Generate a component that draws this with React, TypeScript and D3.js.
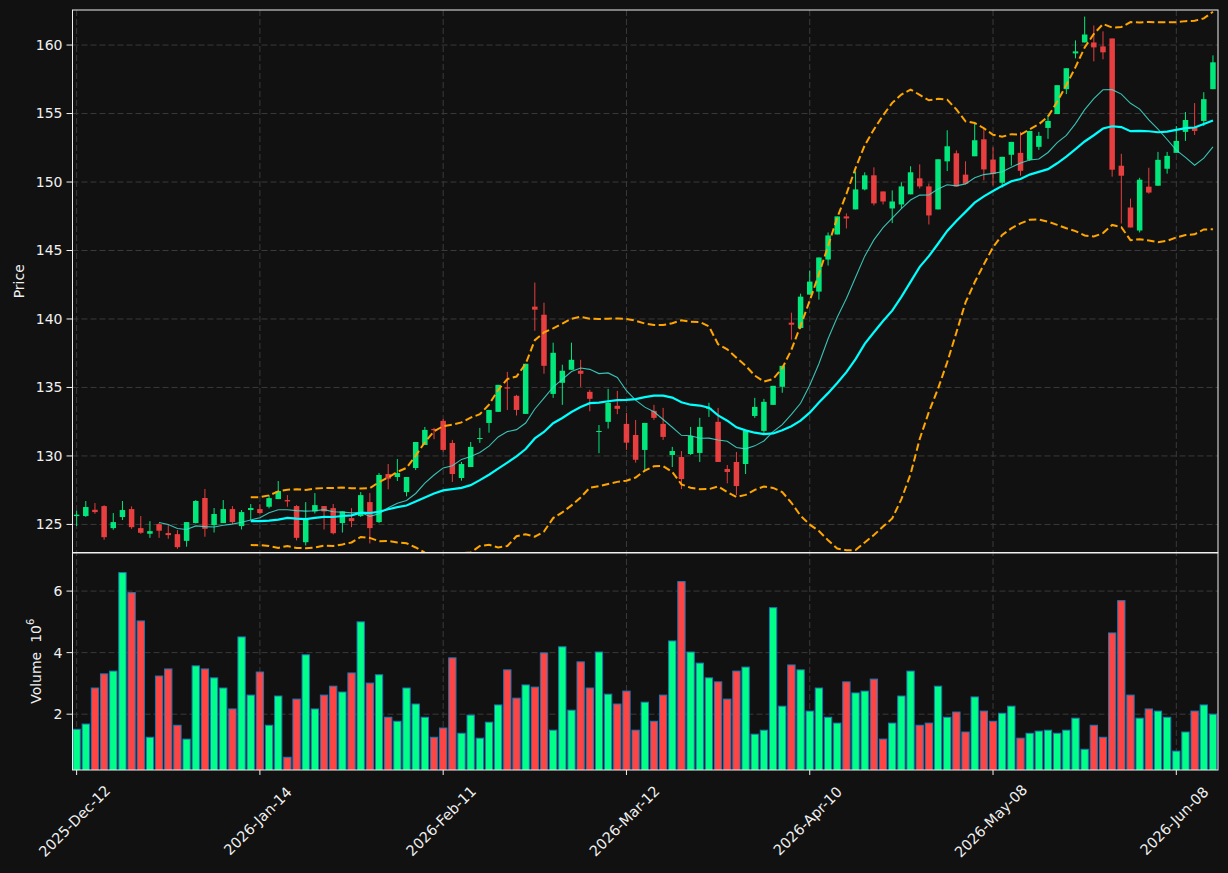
import React from 'react';
import * as d3 from 'd3';

// x tick labels (every 20th session)
const tickIndex = [0, 20, 40, 60, 80, 100, 120];
const tickLabels = ['2025-Dec-12', '2026-Jan-14', '2026-Feb-11', '2026-Mar-12', '2026-Apr-10', '2026-May-08', '2026-Jun-08'];

const opens = [
  125.61, 125.61, 126.07, 126.34, 124.73, 125.54, 126.12, 124.73, 124.32, 125.02,
  124.37, 124.29, 123.80, 125.10, 126.93, 124.95, 125.10, 126.12, 124.88, 126.05,
  126.12, 126.29, 126.85, 126.78, 126.34, 123.70, 125.95, 126.34, 126.19, 125.10,
  125.46, 125.61, 126.63, 125.17, 128.68, 128.46, 127.36, 129.12, 130.80, 131.97,
  132.56, 130.95, 128.39, 129.19, 131.24, 132.41, 133.22, 135.00, 134.39, 133.07,
  140.90, 140.31, 134.53, 135.34, 136.29, 136.22, 134.68, 131.75, 132.49, 133.66,
  132.34, 131.53, 130.44, 133.29, 132.34, 130.07, 129.92, 130.14, 130.22, 133.44,
  132.49, 129.05, 129.56, 129.41, 132.92, 131.83, 133.73, 135.05, 139.73, 139.34,
  141.78, 142.00, 144.34, 146.17, 147.49, 148.00, 149.46, 150.49, 149.31, 148.07,
  148.36, 149.10, 150.27, 149.68, 148.00, 151.51, 152.10, 150.54, 151.88, 153.12,
  151.64, 149.95, 151.99, 152.13, 151.62, 152.57, 153.95, 154.96, 156.78, 159.39,
  160.19, 160.19, 159.90, 160.48, 151.19, 148.14, 146.46, 149.66, 149.73, 150.97,
  152.13, 153.66, 154.02, 154.46, 156.78,
];
const highs = [
  126.00, 126.71, 126.56, 126.40, 125.83, 126.71, 126.32, 125.61, 125.24, 125.10,
  124.95, 124.59, 125.17, 126.78, 127.59, 126.20, 126.78, 126.34, 126.05, 126.49,
  126.49, 127.14, 128.17, 127.14, 126.41, 126.63, 127.29, 126.34, 126.49, 125.95,
  126.19, 127.36, 127.29, 128.75, 129.41, 129.78, 128.46, 131.02, 132.12, 132.05,
  132.70, 131.17, 129.56, 131.02, 132.05, 133.36, 135.19, 136.14, 134.46, 136.73,
  142.66, 141.19, 138.27, 136.66, 138.27, 137.02, 134.83, 132.26, 134.90, 134.75,
  133.15, 132.63, 132.41, 133.73, 133.51, 130.66, 130.36, 132.12, 132.78, 133.88,
  133.51, 129.34, 130.29, 131.83, 134.24, 134.17, 135.12, 136.58, 140.46, 141.85,
  143.54, 144.49, 146.32, 147.49, 147.71, 150.78, 150.71, 151.07, 149.31, 149.39,
  149.98, 151.15, 151.29, 149.90, 151.66, 153.78, 152.31, 151.51, 154.36, 154.00,
  152.54, 151.84, 152.93, 153.66, 153.73, 153.66, 154.89, 157.07, 158.31, 160.34,
  162.08, 161.43, 161.00, 160.48, 152.06, 148.79, 150.31, 151.04, 152.20, 152.20,
  154.09, 155.11, 155.76, 156.56, 159.25,
];
const lows = [
  124.88, 125.55, 125.78, 123.88, 124.61, 125.32, 124.68, 124.32, 124.02, 124.02,
  123.95, 123.22, 123.37, 125.07, 124.10, 124.41, 125.10, 125.02, 124.63, 125.32,
  125.76, 126.17, 126.85, 126.29, 123.83, 123.46, 125.80, 124.63, 124.27, 124.41,
  124.80, 125.54, 123.61, 125.10, 127.56, 128.17, 127.05, 128.97, 130.80, 131.22,
  130.32, 128.10, 128.20, 129.19, 130.95, 131.70, 133.22, 133.36, 132.95, 133.07,
  139.14, 136.00, 134.24, 133.73, 136.29, 135.04, 133.26, 130.20, 132.00, 133.05,
  130.44, 129.51, 128.97, 132.63, 131.17, 129.19, 127.58, 130.07, 129.56, 132.85,
  129.56, 128.00, 127.14, 128.68, 132.78, 131.65, 133.73, 134.61, 138.49, 139.27,
  141.78, 141.41, 143.90, 146.17, 146.61, 148.00, 149.39, 148.29, 148.36, 147.00,
  148.07, 149.10, 149.53, 146.90, 148.00, 150.80, 149.68, 149.83, 151.88, 150.12,
  149.76, 149.59, 151.19, 150.46, 151.55, 152.35, 153.15, 154.96, 156.42, 159.03,
  160.19, 158.81, 158.96, 150.39, 146.97, 146.68, 146.32, 149.15, 149.73, 150.61,
  152.13, 153.00, 153.44, 154.09, 156.78,
];
const closes = [
  125.71, 126.27, 125.90, 124.07, 125.17, 126.05, 124.80, 124.39, 124.51, 124.54,
  124.22, 123.34, 125.17, 126.71, 124.68, 125.76, 126.12, 125.17, 125.90, 126.20,
  125.83, 126.92, 127.44, 126.68, 124.02, 125.44, 126.41, 125.95, 124.36, 125.95,
  125.24, 127.14, 124.73, 128.61, 128.34, 128.75, 128.46, 131.02, 131.90, 131.88,
  130.44, 128.68, 129.41, 130.66, 131.31, 133.36, 135.19, 134.92, 133.36, 136.73,
  140.68, 136.58, 137.53, 136.22, 137.02, 136.00, 134.17, 131.82, 133.88, 133.44,
  130.97, 129.72, 132.41, 132.78, 131.39, 130.36, 128.31, 131.46, 132.12, 133.51,
  129.56, 128.83, 127.80, 131.83, 133.58, 133.95, 135.12, 136.58, 139.58, 141.63,
  142.73, 144.49, 146.10, 147.49, 147.34, 149.46, 150.49, 148.44, 148.58, 148.58,
  149.68, 150.71, 149.68, 147.56, 151.66, 152.61, 149.68, 149.88, 153.05, 150.92,
  150.58, 151.84, 152.93, 150.82, 153.73, 153.37, 154.46, 157.07, 158.31, 159.54,
  160.77, 159.83, 159.47, 150.90, 150.46, 146.68, 150.17, 149.23, 151.62, 151.91,
  153.00, 154.53, 153.73, 156.05, 158.74,
];
// volume in millions
const volumes = [
  1.51, 1.68, 2.85, 3.31, 3.40, 6.60, 5.95, 5.03, 1.25, 3.24,
  3.47, 1.64, 1.19, 3.57, 3.47, 3.18, 2.85, 2.17, 4.51, 2.62,
  3.37, 1.64, 2.59, 0.60, 2.49, 3.93, 2.17, 2.62, 2.91, 2.72,
  3.34, 5.00, 3.01, 3.28, 1.90, 1.77, 2.85, 2.33, 1.90, 1.25,
  1.55, 3.83, 1.38, 1.97, 1.22, 1.74, 2.30, 3.44, 2.52, 2.95,
  2.88, 3.99, 1.48, 4.19, 2.13, 3.70, 2.85, 4.02, 2.65, 2.33,
  2.75, 1.48, 2.39, 1.77, 2.62, 4.38, 6.31, 4.02, 3.66, 3.18,
  3.05, 2.49, 3.40, 3.53, 1.35, 1.48, 5.46, 2.26, 3.60, 3.44,
  2.10, 2.85, 1.90, 1.71, 3.05, 2.69, 2.75, 3.14, 1.19, 1.71,
  2.59, 3.40, 1.64, 1.71, 2.91, 1.90, 2.07, 1.42, 2.56, 2.10,
  1.77, 2.03, 2.26, 1.22, 1.38, 1.45, 1.48, 1.38, 1.48, 1.87,
  0.86, 1.64, 1.25, 4.64, 5.69, 2.62, 1.87, 2.17, 2.10, 1.90,
  0.80, 1.42, 2.10, 2.30, 2.00,
];

const priceTicks = [125, 130, 135, 140, 145, 150, 155, 160];
const volumeTicks = [2, 4, 6];

const W = 1228;
const H = 873;
const L = 72.5;
const R = 1218;
const T = 10;
const MID = 552.5;
const B = 770;

const FONT = 'DejaVu Sans, sans-serif';
const BG = '#111111';
const UP = '#00ff88';
const DOWN = '#ff4444';

function rolling(values: number[], n: number, fn: (w: number[]) => number) {
  return values.map((_, i) => (i < n - 1 ? null : fn(values.slice(i - n + 1, i + 1))));
}

// population standard deviation
const pstd = (w: number[]) => {
  const m = d3.mean(w) as number;
  return Math.sqrt(d3.mean(w, (v) => (v - m) * (v - m)) as number);
};

const App: React.FC = () => {
  const n = closes.length;
  const x = d3.scaleLinear().domain([-0.45, n - 0.45]).range([L, R]);
  const pitch = x(1) - x(0);
  const y = d3.scaleLinear().domain([122.95, 162.56]).range([MID, T]);
  const yv = d3.scaleLinear().domain([0.186, 7.254]).range([B, MID]);

  const ma10 = rolling(closes, 10, (w) => d3.mean(w) as number);
  const ma20 = rolling(closes, 20, (w) => d3.mean(w) as number);
  const sd20 = rolling(closes, 20, pstd);
  const upper = ma20.map((m, i) => (m == null ? null : m + 2 * (sd20[i] as number)));
  const lower = ma20.map((m, i) => (m == null ? null : m - 2 * (sd20[i] as number)));

  const line = d3
    .line<number | null>()
    .defined((d) => d != null)
    .x((_, i) => x(i))
    .y((d) => y(d as number));

  const bodyW = pitch * 0.6;
  const volW = pitch * 0.8;
  const isUp = (i: number) => closes[i] >= opens[i];

  return (
    <svg
      width={W}
      height={H}
      style={{ position: 'absolute', left: 0, top: 0, background: BG }}
      fontFamily={FONT}
    >
      <defs>
        <clipPath id="pclip">
          <rect x={L} y={T} width={R - L} height={MID - T} />
        </clipPath>
        <clipPath id="vclip">
          <rect x={L} y={MID} width={R - L} height={B - MID} />
        </clipPath>
      </defs>
      <rect x={0} y={0} width={W} height={H} fill={BG} />

      {/* grid */}
      <g stroke="#3a3a3a" strokeWidth={1} strokeDasharray="6 3">
        {priceTicks.map((t) => (
          <line key={'pg' + t} x1={L} x2={R} y1={y(t)} y2={y(t)} />
        ))}
        {volumeTicks.map((t) => (
          <line key={'vg' + t} x1={L} x2={R} y1={yv(t)} y2={yv(t)} />
        ))}
        {tickIndex.map((t) => (
          <line key={'xg' + t} x1={x(t)} x2={x(t)} y1={T} y2={B} />
        ))}
      </g>

      {/* candles */}
      <g clipPath="url(#pclip)">
        {closes.map((c, i) => {
          const col = isUp(i) ? UP : DOWN;
          const top = y(Math.max(opens[i], c));
          const bot = y(Math.min(opens[i], c));
          return (
            <g key={'c' + i} opacity={0.9}>
              <line x1={x(i)} x2={x(i)} y1={y(highs[i])} y2={y(lows[i])} stroke={col} strokeWidth={1} />
              <rect x={x(i) - bodyW / 2} y={top} width={bodyW} height={Math.max(1, bot - top)} fill={col} />
            </g>
          );
        })}
        <path d={line(ma10) || ''} fill="none" stroke="#40e0d0" strokeOpacity={0.85} strokeWidth={1.1} />
        <path d={line(ma20) || ''} fill="none" stroke="#00ffff" strokeWidth={2.2} />
        <path d={line(upper) || ''} fill="none" stroke="#ffa500" strokeWidth={2} strokeDasharray="7.5 3.5" />
        <path d={line(lower) || ''} fill="none" stroke="#ffa500" strokeWidth={2} strokeDasharray="7.5 3.5" />
      </g>

      {/* volume */}
      <g clipPath="url(#vclip)">
        {volumes.map((v, i) => (
          <rect
            key={'v' + i}
            x={x(i) - volW / 2}
            y={yv(v)}
            width={volW}
            height={B - yv(v) + 2}
            fill={isUp(i) ? UP : DOWN}
            stroke="#1f77b4"
            strokeWidth={1}
          />
        ))}
      </g>

      {/* frames */}
      <rect x={L} y={T} width={R - L} height={MID - T} fill="none" stroke="#f0f0f0" strokeWidth={1} />
      <rect x={L} y={MID + 0.5} width={R - L} height={B - MID - 0.5} fill="none" stroke="#f0f0f0" strokeWidth={1} />

      {/* y ticks */}
      <g fill="#f0f0f0" fontSize={14} textAnchor="end">
        {priceTicks.map((t) => (
          <g key={'pt' + t}>
            <line x1={L - 6} x2={L} y1={y(t)} y2={y(t)} stroke="#f0f0f0" />
            <text x={L - 10} y={y(t)} dy="0.35em">
              {t}
            </text>
          </g>
        ))}
        {volumeTicks.map((t) => (
          <g key={'vt' + t}>
            <line x1={L - 6} x2={L} y1={yv(t)} y2={yv(t)} stroke="#f0f0f0" />
            <text x={L - 10} y={yv(t)} dy="0.35em">
              {t}
            </text>
          </g>
        ))}
      </g>

      {/* x ticks */}
      <g fill="#f0f0f0" fontSize={14.5}>
        {tickIndex.map((t, k) => (
          <g key={'xt' + t}>
            <line x1={x(t)} x2={x(t)} y1={B} y2={B + 5} stroke="#f0f0f0" />
            <text
              x={x(t) - 2}
              y={821}
              textAnchor="middle"
              dominantBaseline="central"
              transform={`rotate(-45 ${x(t) - 2} 821)`}
            >
              {tickLabels[k]}
            </text>
          </g>
        ))}
      </g>

      {/* axis labels */}
      <text
        x={19}
        y={(T + MID) / 2}
        fill="#f0f0f0"
        fontSize={14}
        textAnchor="middle"
        dominantBaseline="central"
        transform={`rotate(-90 19 ${(T + MID) / 2})`}
      >
        Price
      </text>
      <text
        x={36}
        y={(MID + B) / 2}
        fill="#f0f0f0"
        fontSize={14}
        textAnchor="middle"
        dominantBaseline="central"
        transform={`rotate(-90 36 ${(MID + B) / 2})`}
      >
        Volume{'\u00a0\u00a0'}10
        <tspan dy={-6} fontSize={10}>
          6
        </tspan>
      </text>
    </svg>
  );
};

export default App;
